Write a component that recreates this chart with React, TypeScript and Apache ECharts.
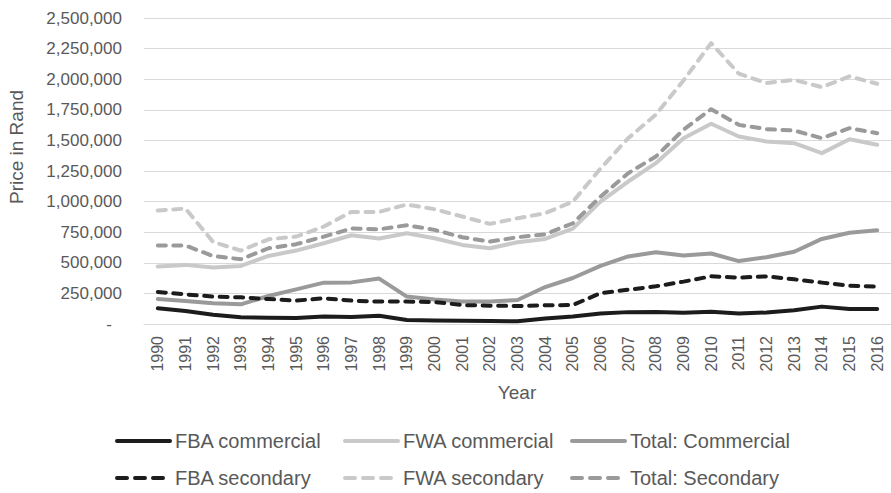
import React, { useEffect, useRef } from "react";
import * as echarts from "echarts";

const years = [
  "1990", "1991", "1992", "1993", "1994", "1995", "1996", "1997", "1998",
  "1999", "2000", "2001", "2002", "2003", "2004", "2005", "2006", "2007",
  "2008", "2009", "2010", "2011", "2012", "2013", "2014", "2015", "2016",
];

const fbaCommercial = [
  128000, 106000, 76000, 56000, 52000, 50000, 62000, 58000, 68000, 32000,
  28000, 26000, 25000, 22000, 45000, 62000, 85000, 97000, 98000, 92000,
  101000, 85000, 94000, 112000, 142000, 122000, 122000,
];

const fwaCommercial = [
  469000, 483000, 461000, 474000, 556000, 600000, 660000, 725000, 698000,
  741000, 700000, 646000, 619000, 668000, 695000, 780000, 1000000, 1164000,
  1314000, 1518000, 1636000, 1532000, 1491000, 1477000, 1396000, 1510000,
  1464000,
];

const totalCommercial = [
  204000, 187000, 169000, 161000, 229000, 283000, 338000, 340000, 371000,
  224000, 200000, 184000, 184000, 196000, 302000, 376000, 475000, 552000,
  586000, 560000, 576000, 514000, 546000, 590000, 695000, 745000, 766000,
];

const fbaSecondary = [
  262000, 242000, 224000, 218000, 204000, 191000, 210000, 191000, 183000,
  183000, 180000, 155000, 150000, 147000, 153000, 155000, 252000, 280000,
  308000, 346000, 390000, 379000, 389000, 365000, 338000, 313000, 305000,
];

const fwaSecondary = [
  927000, 943000, 670000, 600000, 692000, 714000, 796000, 916000, 916000,
  976000, 938000, 878000, 818000, 864000, 905000, 1000000, 1270000, 1518000,
  1710000, 1990000, 2295000, 2045000, 1968000, 1995000, 1935000, 2023000,
  1963000,
];

const totalSecondary = [
  641000, 641000, 555000, 529000, 619000, 652000, 714000, 780000, 774000,
  807000, 769000, 709000, 673000, 709000, 733000, 823000, 1040000, 1232000,
  1368000, 1587000, 1755000, 1627000, 1592000, 1581000, 1518000, 1600000,
  1559000,
];

const FONT = "'Liberation Sans', Arial, sans-serif";
const TEXT = "#595959";
const BLACK = "#1c1c1c";
const LIGHT = "#c9c9c9";
const MID = "#9a9a9a";
const DASH = [8, 7.5];
const LEGEND_DASH = [10, 8];

const seriesDefs = [
  { name: "FBA commercial", data: fbaCommercial, color: BLACK, dashed: false },
  { name: "FWA commercial", data: fwaCommercial, color: LIGHT, dashed: false },
  { name: "Total: Commercial", data: totalCommercial, color: MID, dashed: false },
  { name: "FBA secondary", data: fbaSecondary, color: BLACK, dashed: true },
  { name: "FWA secondary", data: fwaSecondary, color: LIGHT, dashed: true },
  { name: "Total: Secondary", data: totalSecondary, color: MID, dashed: true },
];

const legendCols = [115, 343, 570];
const legendRows = [431, 468];

const fmt = (v: number) =>
  String(v).replace(/\B(?=(\d{3})+(?!\d))/g, ",");

export default function App() {
  const ref = useRef<HTMLDivElement>(null);

  useEffect(() => {
    if (!ref.current) return;
    const chart = echarts.init(ref.current, undefined, { renderer: "svg" });

    // one legend per entry so the three columns line up across both rows
    const legends = seriesDefs.map((s, i) => ({
      data: [s.name],
      left: legendCols[i % 3],
      top: legendRows[Math.floor(i / 3)],
      padding: 0,
      itemWidth: 53,
      itemHeight: 14,
      selectedMode: false,
      itemStyle: { opacity: 0 },
      lineStyle: {
        width: 4,
        color: s.color,
        type: s.dashed ? LEGEND_DASH : "solid",
        cap: "round",
      },
      textStyle: { fontSize: 20, color: TEXT, fontFamily: FONT },
    }));

    chart.setOption({
      animation: false,
      backgroundColor: "#ffffff",
      grid: { left: 144, right: -5, top: 18, bottom: 169 },
      legend: legends,
      xAxis: {
        type: "category",
        data: years,
        boundaryGap: true,
        axisTick: { show: false },
        axisLine: { show: true, lineStyle: { color: "#d9d9d9", width: 1 } },
        axisLabel: {
          rotate: 90,
          margin: 12,
          interval: 0,
          fontSize: 16,
          color: TEXT,
          fontFamily: FONT,
        },
      },
      yAxis: {
        type: "value",
        min: 0,
        max: 2500000,
        interval: 250000,
        axisLine: { show: false },
        axisTick: { show: false },
        splitLine: { lineStyle: { color: "#d9d9d9", width: 1 } },
        axisLabel: {
          margin: 22,
          fontSize: 17,
          color: TEXT,
          fontFamily: FONT,
          formatter: (v: number) => (v === 0 ? "{z|-}" : fmt(v)),
          rich: {
            z: { fontSize: 17, color: TEXT, fontFamily: FONT, padding: [0, 10, 0, 0] },
          },
        },
      },
      graphic: [
        {
          type: "text",
          x: 16,
          y: 147,
          rotation: Math.PI / 2,
          style: {
            text: "Price in Rand",
            fontSize: 19,
            fill: TEXT,
            fontFamily: FONT,
            textAlign: "center",
            textVerticalAlign: "middle",
          },
        },
        {
          type: "text",
          x: 517,
          y: 392,
          style: {
            text: "Year",
            fontSize: 19,
            fill: TEXT,
            fontFamily: FONT,
            textAlign: "center",
            textVerticalAlign: "middle",
          },
        },
      ],
      series: seriesDefs.map((s) => ({
        name: s.name,
        type: "line",
        data: s.data,
        symbol: "none",
        showSymbol: false,
        color: s.color,
        lineStyle: {
          color: s.color,
          width: 4,
          type: s.dashed ? DASH : "solid",
          cap: "round",
          join: "round",
        },
        emphasis: { disabled: true },
      })),
    });

    return () => chart.dispose();
  }, []);

  return (
    <div
      ref={ref}
      style={{ position: "absolute", left: 0, top: 0, width: 891, height: 493 }}
    />
  );
}
